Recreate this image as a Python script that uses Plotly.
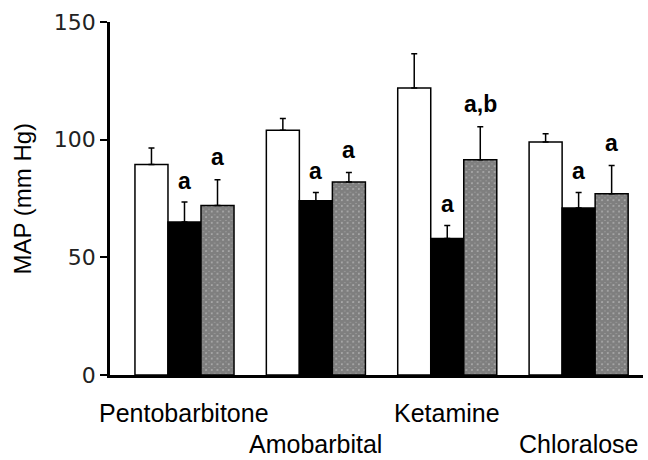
import plotly.graph_objects as go

categories = ["Pentobarbitone", "Amobarbital", "Ketamine", "Chloralose"]
label_row = [0, 1, 0, 1]  # 0 = upper row, 1 = lower row
white_vals = [89.5, 104, 122, 99]
white_err = [7, 5, 14.5, 3.5]
black_vals = [65, 74, 58, 71]
black_err = [8.5, 3.5, 5.5, 6.5]
gray_vals = [72, 82, 91.5, 77]
gray_err = [11, 4, 14, 12]
black_sig = ["a", "a", "a", "a"]
gray_sig = ["a", "a", "a,b", "a"]
y_ticks = [0, 50, 100, 150]

x = list(range(len(categories)))
fig = go.Figure()

def err(a):
    return dict(type="data", array=a, arrayminus=[0] * len(a), symmetric=False,
                color="black", thickness=1.5, width=3)

fig.add_bar(x=x, y=white_vals, error_y=err(white_err),
            marker=dict(color="white", line=dict(color="black", width=1.5)))
fig.add_bar(x=x, y=black_vals, error_y=err(black_err),
            marker=dict(color="black", line=dict(color="black", width=1.5)))
fig.add_bar(x=x, y=gray_vals, error_y=err(gray_err),
            marker=dict(color="white", line=dict(color="black", width=1.5),
                        pattern=dict(shape="x", size=4, solidity=0.95,
                                     fgcolor="black", bgcolor="white")))

bw = 0.251
anns = []
for i in x:
    anns.append(dict(x=i, y=black_vals[i] + black_err[i] + 9, text=black_sig[i]))
    anns.append(dict(x=i + bw, y=gray_vals[i] + gray_err[i] + 9.5, text=gray_sig[i]))
for a in anns:
    a.update(xref="x", yref="y", showarrow=False, yanchor="middle",
             font=dict(family="Liberation Sans", size=23, color="black", weight="bold"))
for i, c in enumerate(categories):
    anns.append(dict(x=i, y=-0.108 if label_row[i] == 0 else -0.196, xref="x", yref="paper",
                     text=c, showarrow=False, yanchor="middle",
                     font=dict(family="Liberation Sans", size=25, color="black")))
anns.append(dict(x=0, xref="paper", xshift=-88, y=0.5, yref="paper",
                 text="MAP (mm Hg)", textangle=-90, showarrow=False,
                 xanchor="center", yanchor="middle",
                 font=dict(family="Liberation Sans", size=24, color="black")))

fig.update_layout(
    width=648, height=460,
    margin=dict(l=110, r=5, t=22, b=85, autoexpand=False),
    paper_bgcolor="white", plot_bgcolor="white",
    barmode="group", bargap=0.246, bargroupgap=0,
    showlegend=False,
    annotations=anns,
)
fig.update_xaxes(range=[-0.567, 3.49], showticklabels=False, ticks="",
                 showline=True, linecolor="black", linewidth=2.5,
                 showgrid=False, zeroline=False, automargin=False)
fig.update_yaxes(range=[0, 150], tickvals=y_ticks, ticks="outside", ticklen=7,
                 tickwidth=2, tickcolor="black",
                 tickfont=dict(family="DejaVu Sans", size=22, color="#222"),
                 showline=True, linecolor="black", linewidth=2.5,
                 showgrid=False, zeroline=False, automargin=False)

fig.write_html("out.html", config={"displayModeBar": False},
               post_script="document.body.style.margin='0';")
